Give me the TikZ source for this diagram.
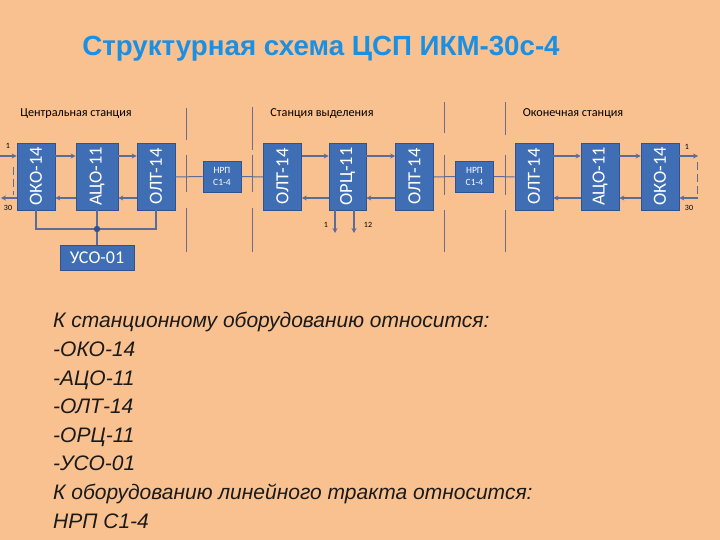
\documentclass[tikz,border=0pt]{standalone}
\usepackage{fontspec}
\setmainfont{Carlito}
\newfontfamily\arialf{Liberation Sans}
\usetikzlibrary{arrows.meta,calc}
\definecolor{bg}{HTML}{F9C18F}
\definecolor{boxfill}{HTML}{3F6EB5}
\definecolor{boxline}{HTML}{2E5390}
\definecolor{wire}{HTML}{5C6C99}
\definecolor{sepc}{HTML}{6A6E88}
\definecolor{titlec}{HTML}{1B8FE2}
\definecolor{textc}{HTML}{1A1A1A}
\tikzset{
  blk/.style={draw=boxline,fill=boxfill,line width=0.6pt,minimum width=38pt,minimum height=67pt,inner sep=0pt},
  nrp/.style={draw=boxline,fill=boxfill,line width=0.6pt,minimum width=38pt,minimum height=31pt,inner sep=0pt,text=white,font=\fontsize{9.5}{11.5}\selectfont,align=center},
  vlab/.style={rotate=90,text=white,font=\fontsize{18.5}{18.5}\selectfont,inner sep=0pt},
  conn/.style={draw=wire,line width=2.2pt,-{Stealth[length=5pt,width=5pt]}},
  thin/.style={draw=wire,line width=1pt},
  bus/.style={draw=wire,line width=1.2pt},
  sepl/.style={draw=sepc,line width=0.9pt},
  small/.style={font=\fontsize{8}{8}\selectfont,text=black,inner sep=0pt},
  station/.style={font=\fontsize{12.2}{12.2}\selectfont,text=black,inner sep=0pt,anchor=base}
}
\begin{document}
\begin{tikzpicture}[x=1pt,y=-1pt]
\fill[bg] (0,0) rectangle (720,540);
\useasboundingbox (0,0) rectangle (720,540);

% title
\node[anchor=base,inner sep=0pt,text=titlec,font=\arialf\bfseries\fontsize{27.7}{27.7}\selectfont] (title) at (321,56) {Структурная схема ЦСП ИКМ-30с-4};

% station labels
\node[station] (st1) at (76,117) {Центральная станция};
\node[station] (st2) at (322,117) {Станция выделения};
\node[station] (st3) at (573,117) {Оконечная станция};

% separators
\draw[sepl] (186,108) -- (186,140) (186,155) -- (186,192) (186,208) -- (186,252);
\draw[sepl] (252,107) -- (252,150) (252,155) -- (252,192) (252,208) -- (252,252);
\draw[sepl] (444,102) -- (444,133) (444,155) -- (444,195) (444,210) -- (444,252);
\draw[sepl] (505,102) -- (505,135) (505,155) -- (505,195) (505,210) -- (505,252);

% blocks
\node[blk] (oko1) at (36,176.5) {};
\node[blk,minimum width=42pt] (aco1) at (97,176.5) {};
\node[blk] (olt1) at (156,176.5) {};
\node[nrp] (nrp1) at (222,176.5) {НРП\\С1-4};
\node[blk] (olt2) at (282.5,176.5) {};
\node[blk,minimum width=37pt] (orc) at (347.5,176.5) {};
\node[blk] (olt3) at (414.5,176.5) {};
\node[nrp] (nrp2) at (474.5,176.5) {НРП\\С1-4};
\node[blk] (olt4) at (534,176.5) {};
\node[blk] (aco2) at (600,176.5) {};
\node[blk] (oko2) at (660,176.5) {};
\node[vlab] at (oko1) {ОКО-14};
\node[vlab] at (aco1) {АЦО-11};
\node[vlab] at (olt1) {ОЛТ-14};
\node[vlab] at (olt2) {ОЛТ-14};
\node[vlab] at (orc) {ОРЦ-11};
\node[vlab] at (olt3) {ОЛТ-14};
\node[vlab] at (olt4) {ОЛТ-14};
\node[vlab] at (aco2) {АЦО-11};
\node[vlab] at (oko2) {ОКО-14};

\node[draw=boxline,fill=boxfill,line width=0.6pt,minimum width=74pt,minimum height=25pt,inner sep=0pt,text=white,font=\fontsize{18}{18}\selectfont] (uso) at (97,257.5) {УСО-01};

% levels
\coordinate (U) at (0,156);
\coordinate (L) at (0,198);
\coordinate (M) at (0,177);

% left edge
\coordinate (inL) at (0,156);
\coordinate (outL) at (1,198);
\draw[conn] (inL) -- (oko1.west |- U);
\draw[conn] (oko1.west |- L) -- (outL);
\coordinate (dl1) at (13,167); \coordinate (dl2) at (13,195);
\draw[thin,line width=0.6pt,dash pattern=on 8pt off 4pt] (dl1) -- (dl2);
\node[small] (n1l) at (8,146) {1};
\node[small] (n30l) at (8,208) {30};

% central station
\draw[conn] (oko1.east |- U) -- (aco1.west |- U);
\draw[conn] (aco1.west |- L) -- (oko1.east |- L);
\draw[conn] (aco1.east |- U) -- (olt1.west |- U);
\draw[conn] (olt1.west |- L) -- (aco1.east |- L);

% line path
\draw[thin] (olt1.east |- M) -- (nrp1.west);
\draw[thin] (nrp1.east) -- (olt2.west |- M);

% drop station
\draw[conn] (olt2.east |- U) -- (orc.west |- U);
\draw[conn] (orc.west |- L) -- (olt2.east |- L);
\draw[conn] (orc.east |- U) -- (olt3.west |- U);
\draw[conn] (olt3.west |- L) -- (orc.east |- L);
\coordinate (o1) at (335,233); \coordinate (o12) at (354,233);
\draw[conn,line width=1.6pt] (orc.south -| o1) -- (o1);
\draw[conn,line width=1.6pt] (orc.south -| o12) -- (o12);
\node[small] (n1o) at (326,225) {1};
\node[small] (n12o) at (368,225) {12};

\draw[thin] (olt3.east |- M) -- (nrp2.west);
\draw[thin] (nrp2.east) -- (olt4.west |- M);

% terminal station
\draw[conn] (olt4.east |- U) -- (aco2.west |- U);
\draw[conn] (aco2.west |- L) -- (olt4.east |- L);
\draw[conn] (aco2.east |- U) -- (oko2.west |- U);
\draw[conn] (oko2.west |- L) -- (aco2.east |- L);

% right edge
\coordinate (outR) at (698,156);
\coordinate (inR) at (698,198);
\draw[conn] (oko2.east |- U) -- (outR);
\draw[conn] (inR) -- (oko2.east |- L);
\coordinate (dr1) at (697,162); \coordinate (dr2) at (697,194);
\draw[thin,line width=0.6pt,dash pattern=on 8pt off 4pt] (dr1) -- (dr2);
\node[small] (n1r) at (687,147) {1};
\node[small] (n30r) at (689,208) {30};

% bus to USO
\coordinate (busy) at (0,229);
\coordinate (jn) at (aco1.south |- busy);
\draw[bus] (oko1.south) -- (oko1.south |- busy) -- (olt1.south |- busy) -- (olt1.south);
\draw[bus] (aco1.south) -- (uso.north);
\fill[boxline] (jn) circle (3.2pt);

% text block (base anchor = last line)
\node[anchor=base west,inner sep=0pt,align=left,text=textc,font=\arialf\itshape\fontsize{21}{28.6}\selectfont] (txt) at (53,528) {К станционному оборудованию относится:\\-ОКО-14\\-АЦО-11\\-ОЛТ-14\\-ОРЦ-11\\-УСО-01\\К оборудованию линейного тракта относится:\\НРП С1-4};
\end{tikzpicture}
\end{document}
